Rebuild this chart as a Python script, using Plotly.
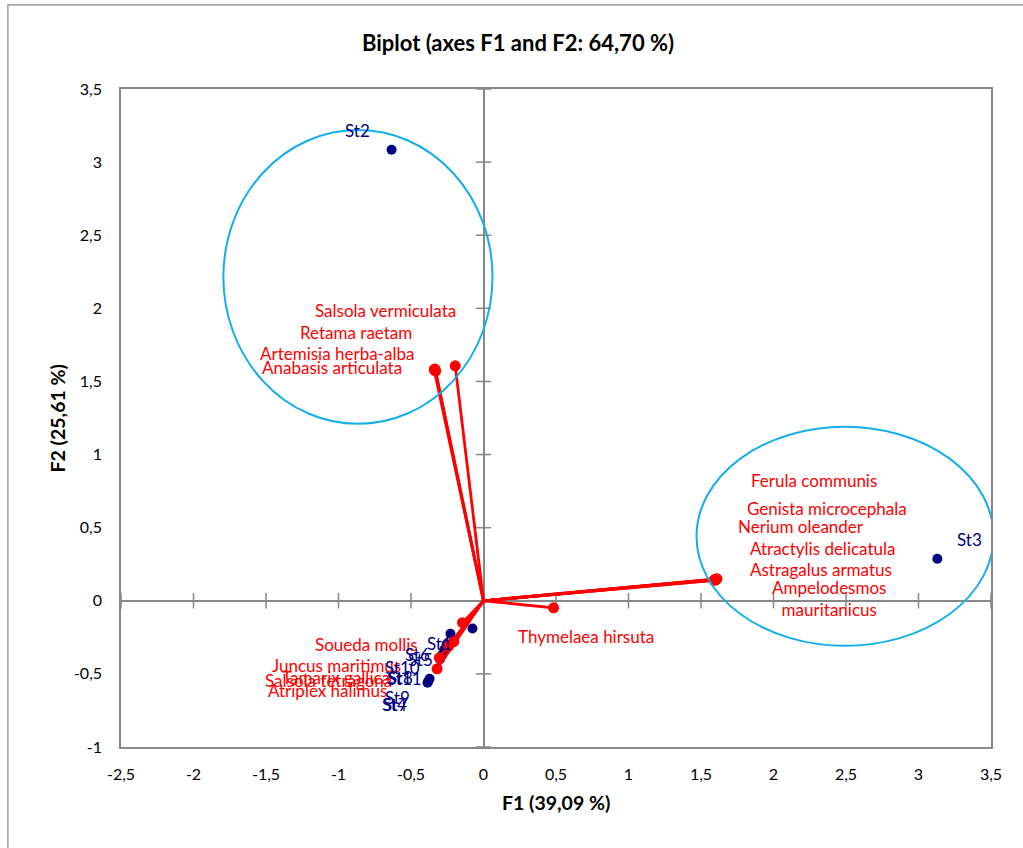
import plotly.graph_objects as go

# ---------------- data ----------------
obs_names = ["St1", "St2", "St3", "St4", "St5", "St6", "St7", "St8", "St9", "St10", "St11"]
obs_f1 = [-0.076, -0.634, 3.13, -0.386, -0.228, -0.255, -0.38, -0.285, -0.372, -0.27, -0.30]
obs_f2 = [-0.19, 3.085, 0.287, -0.561, -0.226, -0.30, -0.55, -0.37, -0.533, -0.335, -0.40]

var_names = ["Salsola vermiculata", "Retama raetam", "Artemisia herba-alba", "Anabasis articulata",
             "Ferula communis", "Genista microcephala", "Nerium oleander", "Atractylis delicatula",
             "Astragalus armatus", "Ampelodesmos<br>mauritanicus", "Thymelaea hirsuta",
             "Soueda mollis", "Juncus maritimus", "Tamarix gallica", "Salsola tetragona",
             "Atriplex halimus"]
var_f1 = [-0.195, -0.34, -0.33, -0.335, 1.60, 1.61, 1.59, 1.605, 1.60, 1.595, 0.483,
          -0.145, -0.205, -0.24, -0.305, -0.32]
var_f2 = [1.607, 1.58, 1.57, 1.585, 0.145, 0.15, 0.14, 0.148, 0.142, 0.146, -0.048,
          -0.15, -0.28, -0.31, -0.39, -0.465]

# ellipses (center, radii) in F1/F2 units
ell_cx = [-0.866, 2.493]
ell_cy = [2.215, 0.441]
ell_rx = [0.928, 1.024]
ell_ry = [1.005, 0.749]

x_ticks = [-2.5, -2, -1.5, -1, -0.5, 0, 0.5, 1, 1.5, 2, 2.5, 3, 3.5]
x_tick_labels = ["-2,5", "-2", "-1,5", "-1", "-0,5", "0", "0,5", "1", "1,5", "2", "2,5", "3", "3,5"]
y_ticks = [-1, -0.5, 0, 0.5, 1, 1.5, 2, 2.5, 3, 3.5]
y_tick_labels = ["-1", "-0,5", "0", "0,5", "1", "1,5", "2", "2,5", "3", "3,5"]

# label offsets (pixels) relative to their points
obs_dx = [-33, -34, 32, -33, -30, -29, -33, -42, -32, -42, -36]
obs_dy = [-15, 19, 19, -22, -26, -10, -23, -23, -19, -18, -19]
var_dx = [-70, -78, -99, -103, 98, 110, 87, 106, 105, 114, 32, -96, -117, -113, -111, -110]
var_dy = [55, 37, 18, 2, 99, 70, 54, 31, 11, -19, -29, -22, -24, -31, -23, -22]

FONT = "Lato, 'Open Sans', sans-serif"
GRAY = "#878787"
RED = "#FF0000"
NAVY = "#000080"
BLUE = "#14AFEA"

fig = go.Figure()

# tick marks on the zero axes
fig.add_trace(go.Scatter(x=x_ticks, y=[0] * len(x_ticks), mode="markers", hoverinfo="skip",
                         marker=dict(symbol="line-ns", size=11, line=dict(color=GRAY, width=1.5))))
fig.add_trace(go.Scatter(x=[0] * len(y_ticks), y=y_ticks, mode="markers", hoverinfo="skip",
                         marker=dict(symbol="line-ew", size=11, line=dict(color=GRAY, width=1.5))))

# observations
fig.add_trace(go.Scatter(x=obs_f1, y=obs_f2, mode="markers",
                         marker=dict(color=NAVY, size=10), text=obs_names))

# variable vectors
vx, vy = [], []
for a, b in zip(var_f1, var_f2):
    vx += [0, a, None]
    vy += [0, b, None]
fig.add_trace(go.Scatter(x=vx, y=vy, mode="lines", line=dict(color=RED, width=2.8),
                         hoverinfo="skip"))
fig.add_trace(go.Scatter(x=var_f1, y=var_f2, mode="markers",
                         marker=dict(color=RED, size=11), text=var_names))

# ellipses
for cx, cy, rx, ry in zip(ell_cx, ell_cy, ell_rx, ell_ry):
    fig.add_shape(type="circle", xref="x", yref="y", x0=cx - rx, x1=cx + rx,
                  y0=cy - ry, y1=cy + ry, line=dict(color=BLUE, width=2))

# outer chart border
fig.add_shape(type="rect", xref="paper", yref="paper", x0=-0.13, x1=1.2, y0=-0.3, y1=1.1277,
              line=dict(color=GRAY, width=1.2), layer="below")

annotations = []
for n, a, b, dx, dy in zip(var_names, var_f1, var_f2, var_dx, var_dy):
    annotations.append(dict(x=a, y=b, xref="x", yref="y", text=n, showarrow=False,
                            xshift=dx, yshift=dy, xanchor="center", yanchor="middle",
                            font=dict(family=FONT, size=17, color=RED)))
for n, a, b, dx, dy in zip(obs_names, obs_f1, obs_f2, obs_dx, obs_dy):
    annotations.append(dict(x=a, y=b, xref="x", yref="y", text=n, showarrow=False,
                            xshift=dx, yshift=dy, xanchor="center", yanchor="middle",
                            font=dict(family=FONT, size=17, color=NAVY)))
annotations.append(dict(x=0.5, y=-0.085, xref="paper", yref="paper", text="<b>F1 (39,09 %)</b>",
                        showarrow=False, xanchor="center", yanchor="middle",
                        font=dict(family=FONT, size=19.5, color="black")))
annotations.append(dict(x=-0.073, y=0.5, xref="paper", yref="paper", text="<b>F2 (25,61 %)</b>",
                        showarrow=False, xanchor="center", yanchor="middle", textangle=-90,
                        font=dict(family=FONT, size=19.5, color="black")))

fig.update_layout(
    width=1023, height=848,
    margin=dict(l=121, r=32, t=89, b=101, autoexpand=False),
    paper_bgcolor="white", plot_bgcolor="white",
    showlegend=False,
    title=dict(text="<b>Biplot (axes F1 and F2: 64,70 %)</b>", x=518 / 1023, xref="container",
               xanchor="center", y=1 - 43 / 848, yref="container", yanchor="middle",
               font=dict(family=FONT, size=22, color="black")),
    annotations=annotations,
    font=dict(family=FONT, size=16, color="black"),
)
fig.update_xaxes(range=[-2.5, 3.5], tickvals=x_ticks, ticktext=x_tick_labels, showgrid=False,
                 zeroline=True, zerolinecolor=GRAY, zerolinewidth=1.5,
                 showline=True, mirror=True, linecolor=GRAY, linewidth=1.5,
                 ticks="", ticklabelstandoff=12, tickfont=dict(family=FONT, size=16))
fig.update_yaxes(range=[-1, 3.5], tickvals=y_ticks, ticktext=y_tick_labels, showgrid=False,
                 zeroline=True, zerolinecolor=GRAY, zerolinewidth=1.5,
                 showline=True, mirror=True, linecolor=GRAY, linewidth=1.5,
                 ticks="", ticklabelstandoff=14, tickfont=dict(family=FONT, size=16))

fig.write_html("out.html")
